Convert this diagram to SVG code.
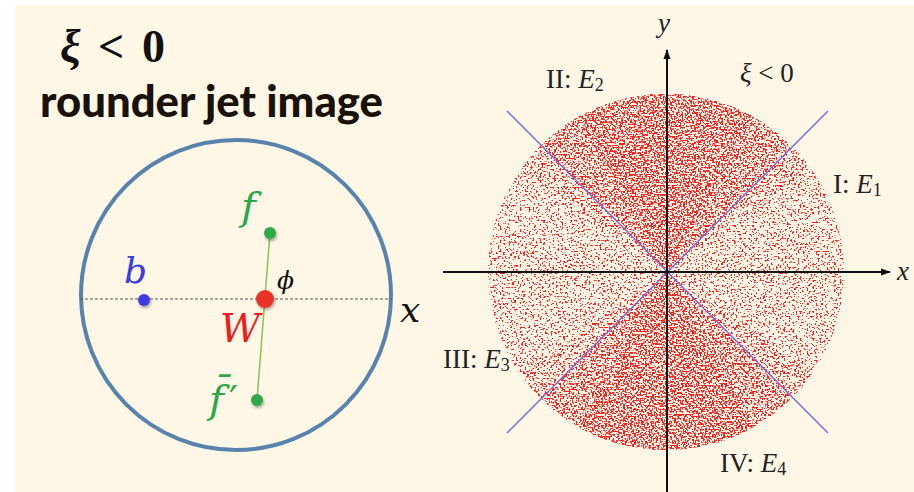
<svg xmlns="http://www.w3.org/2000/svg" width="914" height="492" viewBox="0 0 914 492">
<defs>
<style>
.serif{font-family:"Liberation Serif","Times New Roman",serif}
.it{font-style:italic}
.math{font-family:"DejaVu Serif","Liberation Serif",serif;font-style:italic}
.lab{font-family:"Liberation Serif","Times New Roman",serif;font-size:27px;fill:#222}
.axis{stroke:#111;stroke-width:2;fill:none}
.diag{stroke:#7668d8;stroke-width:1.4}
.dots{fill:#f00}
</style>
<marker id="arr" viewBox="0 0 10 10" refX="9" refY="5" markerWidth="10" markerHeight="10" markerUnits="userSpaceOnUse" orient="auto">
<path d="M0,1.5 L10,5 L0,8.5 Z" fill="#111"/>
</marker>
<filter id="shadow" x="-50%" y="-50%" width="200%" height="200%">
<feGaussianBlur in="SourceAlpha" stdDeviation="1.5"/>
<feOffset dx="1" dy="2" result="b"/>
<feComponentTransfer><feFuncA type="linear" slope="0.35"/></feComponentTransfer>
<feMerge><feMergeNode/><feMergeNode in="SourceGraphic"/></feMerge>
</filter>
<filter id="d1" filterUnits="userSpaceOnUse" x="480" y="85" width="375" height="375" color-interpolation-filters="sRGB">
<feTurbulence type="fractalNoise" baseFrequency="0.55" numOctaves="1" seed="7"/>
<feColorMatrix type="matrix" values="0 0 0 0 1  0 0 0 0 0.12  0 0 0 0 0.12  1 0 0 0 0"/>
<feComponentTransfer><feFuncA type="linear" slope="25" intercept="-14.6"/></feComponentTransfer>
</filter>
<filter id="d2" filterUnits="userSpaceOnUse" x="480" y="85" width="375" height="375" color-interpolation-filters="sRGB">
<feTurbulence type="fractalNoise" baseFrequency="0.55" numOctaves="1" seed="7"/>
<feColorMatrix type="matrix" values="0 0 0 0 1  0 0 0 0 0.12  0 0 0 0 0.12  1 0 0 0 0"/>
<feComponentTransfer><feFuncA type="linear" slope="25" intercept="-13.8"/></feComponentTransfer>
</filter>
<filter id="d3" filterUnits="userSpaceOnUse" x="480" y="85" width="375" height="375" color-interpolation-filters="sRGB">
<feTurbulence type="fractalNoise" baseFrequency="0.55" numOctaves="1" seed="7"/>
<feColorMatrix type="matrix" values="0 0 0 0 1  0 0 0 0 0.12  0 0 0 0 0.12  1 0 0 0 0"/>
<feComponentTransfer><feFuncA type="linear" slope="25" intercept="-13"/></feComponentTransfer>
</filter>
<filter id="d4" filterUnits="userSpaceOnUse" x="480" y="85" width="375" height="375" color-interpolation-filters="sRGB">
<feTurbulence type="fractalNoise" baseFrequency="0.55" numOctaves="1" seed="7"/>
<feColorMatrix type="matrix" values="0 0 0 0 1  0 0 0 0 0.12  0 0 0 0 0.12  1 0 0 0 0"/>
<feComponentTransfer><feFuncA type="linear" slope="25" intercept="-12.5"/></feComponentTransfer>
</filter>
<clipPath id="disk"><circle cx="666" cy="272" r="178"/></clipPath>
<clipPath id="w55"><path d="M666,272 L380,72 L952,72 Z M666,272 L380,472 L952,472 Z"/></clipPath>
<clipPath id="w45"><path d="M666,272 L466,72 L866,72 Z M666,272 L466,472 L866,472 Z"/></clipPath>
<clipPath id="w30"><path d="M666,272 L551,72 L781,72 Z M666,272 L551,472 L781,472 Z"/></clipPath>
</defs>
<rect x="0" y="0" width="914" height="492" fill="#ffffff"/>
<rect x="15" y="5" width="899" height="487" fill="#fef7e6"/>

<!-- left panel -->
<g id="title">
<text y="62" class="serif" font-size="46" font-weight="bold" fill="#111"><tspan x="60" font-style="italic">ξ</tspan><tspan x="98">&lt;</tspan><tspan x="142">0</tspan></text>
<text x="40" y="117" font-family="Lato,'Open Sans',sans-serif" font-weight="900" font-size="44" fill="#1a1208" textLength="343" lengthAdjust="spacingAndGlyphs">rounder jet image</text>
</g>
<g id="jet">
<circle cx="236" cy="295" r="155" fill="none" stroke="#5883ad" stroke-width="4"/>
<line x1="80" y1="299" x2="392" y2="299" stroke="#555" stroke-width="1.2" stroke-dasharray="3,2"/>
<text x="400" y="322" class="math" font-size="36" fill="#111">x</text>
</g>
<g id="connectors">
<line x1="270" y1="233" x2="257" y2="400" stroke="#8cc152" stroke-width="1.5"/>
</g>
<g id="node-b">
<circle cx="144" cy="300" r="6" fill="#3b3de0" filter="url(#shadow)"/>
<text x="124" y="283" class="math" font-size="36" fill="#3b3de0">b</text>
</g>
<g id="node-W">
<circle cx="265" cy="299" r="9" fill="#e8332b" filter="url(#shadow)"/>
<text x="220" y="342" class="math" font-size="39" fill="#ee1c1c">W</text>
<text x="277" y="289" class="math" font-size="25" fill="#111">ϕ</text>
</g>
<g id="node-f">
<circle cx="270" cy="233" r="6" fill="#2ea84a" filter="url(#shadow)"/>
<text x="241" y="220" class="math" font-size="40" fill="#2aa84a">f</text>
</g>
<g id="node-fbar">
<circle cx="257" cy="400" r="6" fill="#2ea84a" filter="url(#shadow)"/>
<text x="209" y="413" class="math" font-size="40" fill="#2aa84a">f&#x0304;</text>
<text x="229" y="414" font-family="'DejaVu Serif',serif" font-size="40" fill="#2aa84a">′</text>
</g>

<!-- right panel -->
<g id="scatter" clip-path="url(#disk)">
<rect class="dots" x="486" y="92" width="360" height="360" filter="url(#d1)"/>
<g clip-path="url(#w55)"><rect class="dots" x="486" y="92" width="360" height="360" filter="url(#d2)"/></g>
<g clip-path="url(#w45)"><rect class="dots" x="486" y="92" width="360" height="360" filter="url(#d3)"/></g>
<g clip-path="url(#w30)"><rect class="dots" x="486" y="92" width="360" height="360" filter="url(#d4)"/></g>
</g>
<g id="diagonals">
<line class="diag" x1="507" y1="111" x2="828" y2="433"/>
<line class="diag" x1="828" y1="111" x2="507" y2="433"/>
</g>
<g id="axes">
<line class="axis" x1="667" y1="492" x2="667" y2="50" marker-end="url(#arr)"/>
<line class="axis" x1="443" y1="272" x2="890" y2="272" marker-end="url(#arr)"/>
<text x="658" y="32" class="lab it" font-size="23">y</text>
<text x="897" y="280" class="lab it" font-size="25">x</text>
</g>
<g id="labels">
<text x="546" y="88" class="lab">II: <tspan font-style="italic">E</tspan><tspan font-size="18" dy="3">2</tspan></text>
<text x="740" y="82" class="lab"><tspan font-style="italic">ξ</tspan> &lt; 0</text>
<text x="833" y="193" class="lab">I: <tspan font-style="italic">E</tspan><tspan font-size="18" dy="3">1</tspan></text>
<text x="443" y="368" class="lab">III: <tspan font-style="italic">E</tspan><tspan font-size="18" dy="3">3</tspan></text>
<text x="720" y="472" class="lab">IV: <tspan font-style="italic">E</tspan><tspan font-size="18" dy="3">4</tspan></text>
</g>
</svg>
